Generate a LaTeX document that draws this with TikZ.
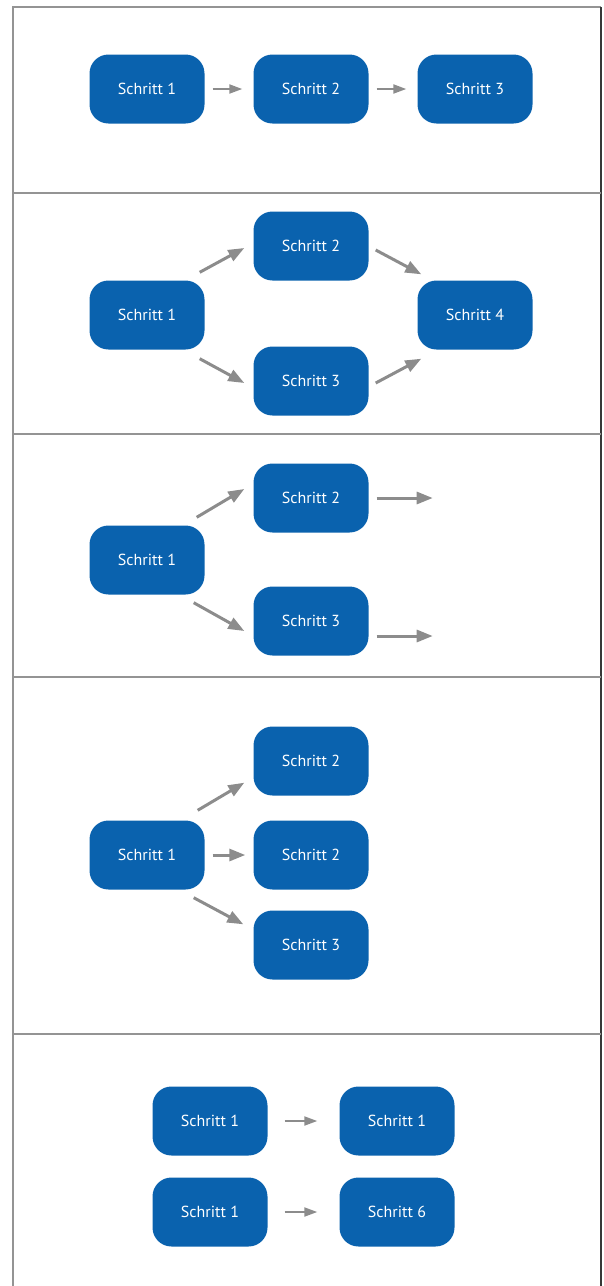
\documentclass[tikz,border=0pt]{standalone}
\usepackage{fontspec}
\setmainfont{PT Sans}
\usetikzlibrary{arrows.meta}
\definecolor{stepblue}{RGB}{10,98,174}
\definecolor{arrowgray}{RGB}{140,140,140}
\begin{document}
\begin{tikzpicture}[x=1pt,y=-1pt,
  schritt/.style={fill=stepblue,text=white,rounded corners=19pt,minimum width=115pt,minimum height=69pt,font=\fontsize{16}{19}\selectfont},
  flow/.style={draw=arrowgray,line width=2pt,-{Triangle[length=13pt,width=9pt]}},
  branch/.style={draw=arrowgray,line width=3pt,-{Triangle[length=16pt,width=12pt]}},
  frame/.style={draw=black!42,line width=2pt}]
\useasboundingbox (0,0) rectangle (603,1286);
\draw[frame] (13,1286) -- (13,7) -- (601,7);
\draw[draw=black!78,line width=2.5pt] (601,7) -- (601,1286);
\foreach \y in {193,434,677,1034} \draw[frame] (13,\y) -- (601,\y);

\node[schritt] (a1) at (147,89) {Schritt 1};
\node[schritt] (a2) at (311,89) {Schritt 2};
\node[schritt] (a3) at (475,89) {Schritt 3};
\draw[flow,shorten <=8pt,shorten >=11pt] (a1) -- (a2);
\draw[flow,shorten <=8pt,shorten >=11pt] (a2) -- (a3);

\node[schritt] (b1) at (147,315) {Schritt 1};
\node[schritt] (b2) at (311,246) {Schritt 2};
\node[schritt] (b3) at (311,381) {Schritt 3};
\node[schritt] (b4) at (475,315) {Schritt 4};
\draw[branch] ([shift={(-5,-8)}]b1.north east) -- ([shift={(-9,2)}]b2.west);
\draw[branch] ([shift={(-5,9)}]b1.south east) -- ([shift={(-9,2)}]b3.west);
\draw[branch] ([shift={(7,4)}]b2.east) -- ([shift={(4,-6)}]b4.north west);
\draw[branch] ([shift={(7,2)}]b3.east) -- ([shift={(4,9)}]b4.south west);

\node[schritt] (c1) at (147,560) {Schritt 1};
\node[schritt] (c2) at (311,498) {Schritt 2};
\node[schritt] (c3) at (311,621) {Schritt 3};
\coordinate (c4) at ([shift={(64,0)}]c2.east);
\coordinate (c5) at ([shift={(64,15)}]c3.east);
\draw[branch] ([shift={(-8,-8)}]c1.north east) -- ([shift={(-9,-9)}]c2.west);
\draw[branch] ([shift={(-11,8)}]c1.south east) -- ([shift={(-9,10)}]c3.west);
\draw[branch] ([shift={(8,0)}]c2.east) -- (c4);
\draw[branch] ([shift={(8,15)}]c3.east) -- (c5);

\node[schritt] (d1) at (147,855) {Schritt 1};
\node[schritt] (d2) at (311,761) {Schritt 2};
\node[schritt] (d3) at (311,855) {Schritt 2};
\node[schritt] (d4) at (311,945) {Schritt 3};
\draw[branch] ([shift={(-7,-10)}]d1.north east) -- ([shift={(-9,-13)}]d2.south west);
\draw[branch,shorten <=8pt,shorten >=8pt] (d1) -- (d3);
\draw[branch] ([shift={(-11,8)}]d1.south east) -- ([shift={(-10,14)}]d4.north west);

\node[schritt] (e1) at (210,1121) {Schritt 1};
\node[schritt] (e2) at (397,1121) {Schritt 1};
\node[schritt] (e3) at (210,1212) {Schritt 1};
\node[schritt] (e4) at (397,1212) {Schritt 6};
\draw[flow,shorten <=17pt,shorten >=22pt] (e1) -- (e2);
\draw[flow,shorten <=17pt,shorten >=22pt] (e3) -- (e4);
\end{tikzpicture}
\end{document}
